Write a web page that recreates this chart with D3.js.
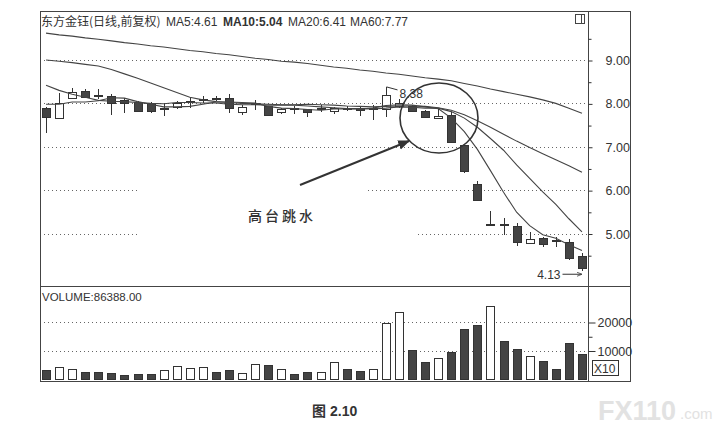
<!DOCTYPE html>
<html>
<meta charset="utf-8">
<script src="https://cdn.jsdelivr.net/npm/d3@7"></script>
<title>东方金钰 日线</title>
<style>
body { margin: 0; background: #fff; }
svg text { font-family: "Liberation Sans", Arial, sans-serif; fill: #333; }
svg .cjk { font-family: "Noto Sans CJK SC", sans-serif; }
</style>
<body>
<svg id="chart" width="722" height="428"></svg>
<script>
// daily candles
var opens  = [7.89, 7.68, 8.12, 8.29, 8.19, 8.18, 8.07, 8.04, 8.02, 7.88, 7.90, 8.03, 8.09, 8.13, 8.13, 7.80, 7.99, 7.93, 7.81, 7.90, 7.86,
              7.88, 7.81, 7.90, 7.90, 7.88, 7.88, 7.93, 7.94, 7.82, 7.67, 7.73, 7.04, 6.14, 5.20, 5.21, 5.18, 4.79, 4.90, 4.84, 4.81, 4.47];
var highs  = [7.92, 8.25, 8.36, 8.32, 8.32, 8.22, 8.12, 8.06, 8.04, 8.01, 8.05, 8.15, 8.17, 8.18, 8.21, 7.96, 8.08, 7.95, 7.90, 7.95, 7.88,
              7.96, 7.91, 7.95, 7.93, 7.97, 8.38, 8.10, 7.97, 7.84, 7.86, 7.80, 7.05, 6.20, 5.52, 5.36, 5.25, 5.04, 4.92, 4.93, 4.88, 4.55];
var lows   = [7.32, 7.64, 8.10, 8.13, 8.10, 7.73, 7.78, 7.80, 7.78, 7.72, 7.86, 7.89, 8.00, 8.05, 7.78, 7.73, 7.85, 7.71, 7.76, 7.75, 7.69,
              7.81, 7.75, 7.83, 7.70, 7.62, 7.68, 7.90, 7.80, 7.67, 7.65, 7.08, 6.40, 5.76, 5.20, 4.96, 4.71, 4.78, 4.68, 4.70, 4.39, 4.13];
var closes = [7.69, 8.02, 8.26, 8.15, 8.17, 8.03, 8.00, 7.84, 7.84, 7.90, 8.00, 8.05, 8.11, 8.11, 7.90, 7.92, 8.01, 7.73, 7.88, 7.88, 7.80,
              7.90, 7.89, 7.88, 7.86, 7.90, 8.20, 8.00, 7.82, 7.68, 7.72, 7.10, 6.44, 5.78, 5.23, 5.19, 4.81, 4.88, 4.76, 4.82, 4.43, 4.20];

// volume in axis units (X10)
var volumes = [3000, 4200, 3600, 2400, 2400, 2200, 1400, 1700, 1800, 3200, 4400, 4000, 4200, 2600, 3200, 2200, 5400, 4800, 3400, 1700, 2600,
               2400, 5800, 3600, 2800, 3600, 19700, 23500, 10100, 6000, 7200, 9500, 17500, 18800, 25500, 13200, 10700, 8000, 6200, 3600, 12800, 8638.8];

// moving average lines
var ma5  = [7.98, 7.98, 8.03, 8.03, 8.06, 8.13, 8.12, 8.04, 7.98, 7.92, 7.92, 7.93, 7.98, 8.03, 8.03, 8.02, 8.01, 7.93, 7.89, 7.88, 7.86,
            7.84, 7.87, 7.87, 7.87, 7.89, 7.95, 7.97, 7.96, 7.92, 7.88, 7.66, 7.35, 6.94, 6.45, 5.95, 5.49, 5.18, 4.97, 4.89, 4.74, 4.61];
var ma10 = [8.42, 8.30, 8.21, 8.14, 8.07, 8.05, 8.04, 8.02, 8.00, 7.99, 8.02, 8.02, 8.01, 8.01, 7.98, 7.97, 7.97, 7.96, 7.96, 7.96, 7.94,
            7.92, 7.90, 7.88, 7.88, 7.87, 7.89, 7.92, 7.91, 7.89, 7.89, 7.81, 7.66, 7.45, 7.19, 6.92, 6.58, 6.27, 5.96, 5.67, 5.34, 5.04];
var ma20 = [9.00, 8.97, 8.94, 8.90, 8.86, 8.78, 8.68, 8.58, 8.47, 8.36, 8.25, 8.14, 8.08, 8.04, 8.02, 8.00, 7.99, 7.98, 7.97, 7.97, 7.98,
            7.97, 7.96, 7.94, 7.93, 7.92, 7.93, 7.94, 7.94, 7.93, 7.90, 7.84, 7.74, 7.60, 7.45, 7.29, 7.13, 6.98, 6.84, 6.70, 6.56, 6.41];
var ma60 = [9.62, 9.58, 9.55, 9.51, 9.48, 9.44, 9.40, 9.37, 9.33, 9.30, 9.26, 9.22, 9.19, 9.15, 9.12, 9.08, 9.04, 9.01, 8.97, 8.95, 8.92,
            8.88, 8.84, 8.81, 8.77, 8.74, 8.70, 8.67, 8.63, 8.59, 8.56, 8.52, 8.46, 8.40, 8.33, 8.27, 8.21, 8.15, 8.08, 8.00, 7.89, 7.77];

var priceTicks = [5, 6, 7, 8, 9];
var priceMinor = [4.5, 5.5, 6.5, 7.5, 8.5, 9.5];
var volTicks = [10000, 20000];
var volMinor = [15000];

var n = closes.length;
var svg = d3.select("#chart");
var ink = "#333";

// scales
var x = d3.scaleBand().domain(d3.range(n)).range([39.5, 588.5]).paddingInner(0.33).paddingOuter(0.165);
var cx = function(i) { return Math.round(x(i) + x.bandwidth() / 2) + 0.5; };
var bw = Math.round(x.bandwidth());
var yP = d3.scaleLinear().domain([5, 9]).range([233.5, 60]);
var yV = d3.scaleLinear().domain([0, 20000]).range([379, 322]);

// dotted grid lines (some are broken where the annotation sits)
var gridSegs = { 9: [[40, 588]], 8: [[40, 588]], 7: [[40, 588]], 6: [[40, 140], [368, 588]], 5: [[40, 140], [418, 588]] };
priceTicks.forEach(function(v) {
  gridSegs[v].forEach(function(s) {
    svg.append("line")
      .attr("x1", s[0]).attr("x2", s[1])
      .attr("y1", Math.round(yP(v)) + 0.5).attr("y2", Math.round(yP(v)) + 0.5)
      .style("stroke", "#666").style("stroke-dasharray", "1,3");
  });
});
volTicks.forEach(function(v) {
  svg.append("line")
    .attr("x1", 40).attr("x2", 588)
    .attr("y1", Math.round(yV(v)) + 0.5).attr("y2", Math.round(yV(v)) + 0.5)
    .style("stroke", "#666").style("stroke-dasharray", "1,3");
});

// candles
var cg = svg.append("g").attr("shape-rendering", "crispEdges");
var up = function(i) { return closes[i] >= opens[i]; };
cg.selectAll(".wick").data(d3.range(n)).join("line")
  .attr("x1", cx).attr("x2", cx)
  .attr("y1", function(i) { return yP(highs[i]); })
  .attr("y2", function(i) { return yP(lows[i]); })
  .style("stroke", ink);
cg.selectAll(".body").data(d3.range(n)).join("rect")
  .attr("x", function(i) { return cx(i) - bw / 2; })
  .attr("width", bw - 1)
  .attr("y", function(i) { return Math.round(yP(Math.max(opens[i], closes[i]))) + 0.5; })
  .attr("height", function(i) { return Math.max(1, Math.round(Math.abs(yP(opens[i]) - yP(closes[i])))); })
  .style("fill", function(i) { return up(i) ? "#fff" : "#444"; })
  .style("stroke", ink);

// moving averages
var line = d3.line().x(function(d, i) { return x(i) + x.bandwidth() / 2; }).y(function(d) { return yP(d); });
[ma60, ma20, ma10, ma5].forEach(function(s) {
  svg.append("path").datum(s).attr("d", line)
    .style("fill", "none").style("stroke", "#444").style("stroke-width", 1.1);
});

// volume bars
var vg = svg.append("g").attr("shape-rendering", "crispEdges");
vg.selectAll("rect").data(d3.range(n)).join("rect")
  .attr("x", function(i) { return cx(i) - bw / 2; })
  .attr("width", bw - 1)
  .attr("y", function(i) { return Math.round(yV(volumes[i])) + 0.5; })
  .attr("height", function(i) { return Math.round(yV(0) - yV(volumes[i])); })
  .style("fill", function(i) { return up(i) ? "#fff" : "#444"; })
  .style("stroke", ink);

// frame
var frame = svg.append("g").attr("shape-rendering", "crispEdges").style("stroke", "#444").style("fill", "none");
frame.append("rect").attr("x", 40.5).attr("y", 11.5).attr("width", 590).attr("height", 370).style("stroke-width", 1.5);
frame.append("line").attr("x1", 40).attr("x2", 631).attr("y1", 286.5).attr("y2", 286.5).style("stroke-width", 1.5);
frame.append("line").attr("x1", 588.5).attr("x2", 588.5).attr("y1", 11).attr("y2", 381);
frame.append("rect").attr("x", 575.5).attr("y", 14.5).attr("width", 9).attr("height", 9);
frame.append("line").attr("x1", 581.5).attr("x2", 581.5).attr("y1", 14.5).attr("y2", 23.5);

// right axes
function styleAxis(g) {
  g.select(".domain").remove();
  g.selectAll("line").style("stroke", ink);
  g.selectAll("text").attr("font-family", "Liberation Sans, Arial, sans-serif").attr("font-size", 12.5).style("fill", ink);
}
svg.append("g").attr("transform", "translate(588.5,0.5)")
  .call(d3.axisRight(yP).tickValues(priceTicks).tickSize(4).tickPadding(13).tickFormat(d3.format(".2f")))
  .call(styleAxis);
svg.append("g").attr("transform", "translate(588.5,0.5)")
  .call(d3.axisRight(yP).tickValues(priceMinor).tickSize(3).tickFormat(""))
  .call(styleAxis);
svg.append("g").attr("transform", "translate(588.5,0.5)")
  .call(d3.axisRight(yV).tickValues(volTicks).tickSize(7).tickPadding(2).tickFormat(d3.format("d")))
  .call(styleAxis);
svg.append("g").attr("transform", "translate(588.5,0.5)")
  .call(d3.axisRight(yV).tickValues(volMinor).tickSize(4).tickFormat(""))
  .call(styleAxis);

svg.append("rect").attr("x", 592.5).attr("y", 360.5).attr("width", 26).attr("height", 15)
  .style("fill", "#fff").style("stroke", ink);
svg.append("text").attr("x", 594).attr("y", 373).attr("font-size", 12).text("X10");

// header
svg.append("text").attr("class", "cjk").attr("x", 41).attr("y", 26).attr("font-size", 12).text("东方金钰(日线,前复权)");
svg.append("text").attr("x", 166).attr("y", 26).attr("font-size", 12).text("MA5:" + ma5[n - 1].toFixed(2));
svg.append("text").attr("x", 223).attr("y", 26).attr("font-size", 12).style("font-weight", "bold").text("MA10:" + ma10[n - 1].toFixed(2));
svg.append("text").attr("x", 288).attr("y", 26).attr("font-size", 12).text("MA20:" + ma20[n - 1].toFixed(2));
svg.append("text").attr("x", 350).attr("y", 26).attr("font-size", 12).text("MA60:" + ma60[n - 1].toFixed(2));
svg.append("text").attr("x", 42).attr("y", 301).attr("font-size", 11.5).text("VOLUME:" + (volumes[n - 1] * 10).toFixed(2));

// high / low labels
var iHigh = d3.maxIndex(highs), iLow = d3.minIndex(lows);
svg.append("line")
  .attr("x1", cx(iHigh)).attr("y1", yP(highs[iHigh]))
  .attr("x2", cx(iHigh) + 11).attr("y2", yP(highs[iHigh]) + 3)
  .style("stroke", ink);
svg.append("text").attr("x", cx(iHigh) + 13).attr("y", yP(highs[iHigh]) + 11).attr("font-size", 12).text(highs[iHigh].toFixed(2));

svg.append("defs").html(
  '<marker id="ah" viewBox="0 0 10 10" refX="9" refY="5" markerWidth="6" markerHeight="6" orient="auto">' +
  '<path d="M0,1 L10,5 L0,9 z" fill="#333"/></marker>' +
  '<marker id="ahs" viewBox="0 0 10 10" refX="9" refY="5" markerWidth="7" markerHeight="5" orient="auto">' +
  '<path d="M0,1 L10,5 L0,9" fill="none" stroke="#333" stroke-width="1.5"/></marker>');

svg.append("line")
  .attr("x1", cx(iLow) - 20).attr("x2", cx(iLow) - 1)
  .attr("y1", yP(lows[iLow]) + 3).attr("y2", yP(lows[iLow]) + 3)
  .style("stroke", ink).attr("marker-end", "url(#ahs)");
svg.append("text").attr("x", cx(iLow) - 22).attr("y", yP(lows[iLow]) + 7.5)
  .attr("text-anchor", "end").attr("font-size", 12).text(lows[iLow].toFixed(2));

// annotation: circle round the plateau and the arrow
svg.append("ellipse").attr("cx", 439).attr("cy", 118).attr("rx", 39).attr("ry", 35)
  .style("fill", "none").style("stroke", ink).style("stroke-width", 1.6);
svg.append("line").attr("x1", 300).attr("y1", 185).attr("x2", 409).attr("y2", 141)
  .style("stroke", ink).style("stroke-width", 2).attr("marker-end", "url(#ah)");
svg.append("text").attr("class", "cjk").attr("x", 248).attr("y", 221)
  .attr("font-size", 14).style("font-weight", 500).style("letter-spacing", "3px").text("高台跳水");

// caption and watermark
svg.append("text").attr("class", "cjk").attr("x", 312).attr("y", 416)
  .attr("font-size", 14).style("font-weight", "bold").text("图");
svg.append("text").attr("x", 330).attr("y", 416).attr("font-size", 14).style("font-weight", "bold").text("2.10");
svg.append("text").attr("x", 598).attr("y", 420).attr("font-size", 27).style("font-weight", "bold")
  .style("fill", "#e2e2e2").text("FX110");
svg.append("text").attr("x", 680).attr("y", 419).attr("font-size", 15)
  .style("fill", "#e2e2e2").text(".com");
</script>
</body>
</html>
